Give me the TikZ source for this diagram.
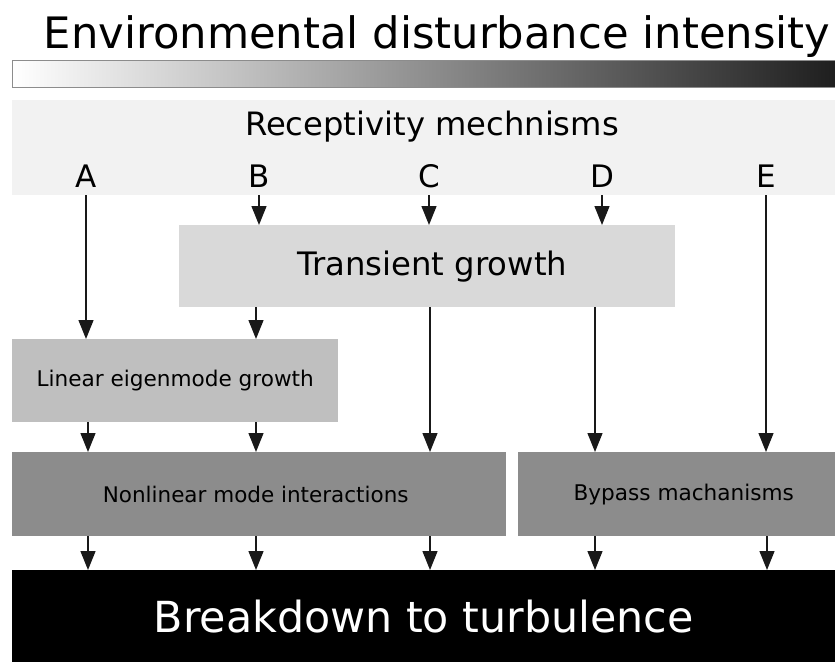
\documentclass[tikz,border=0pt]{standalone}
\usepackage{fontspec}
\setmainfont{DejaVu Sans}
\usetikzlibrary{arrows.meta}

\definecolor{bandgray}{HTML}{F2F2F2}
\definecolor{transgray}{HTML}{D9D9D9}
\definecolor{lingray}{HTML}{BFBFBF}
\definecolor{nongray}{HTML}{8C8C8C}

\begin{document}
\begin{tikzpicture}[
    x=1pt, y=-1pt,
    stage/.style={
        rectangle,
        anchor=north west,
        inner sep=0pt,
        align=center
    },
    flow/.style={
        draw=black!90,
        line width=1.3pt,
        arrows={-Triangle[length=19pt,width=15pt]}
    },
    letter/.style={
        anchor=base,
        font=\fontsize{31}{35}\selectfont
    }
]

\useasboundingbox (0,0) rectangle (835,662);

% title and intensity bar
\node[anchor=base, font=\fontsize{43.3}{48}\selectfont] (title) at (437,48) {Environmental disturbance intensity};
\shade[left color=white, right color=black!88] (12,60) rectangle (835,87);
\draw[black!45, line width=0.8pt] (12,60) rectangle (835,87);

% receptivity band
\node[stage, fill=bandgray, minimum width=823pt, minimum height=95pt] (band) at (12,100) {};
\node[anchor=base, font=\fontsize{32.2}{36}\selectfont] (recept) at (432,135) {Receptivity mechnisms};
\node[letter] (A) at (86,187) {A};
\node[letter] (B) at (259,187) {B};
\node[letter] (C) at (429,187) {C};
\node[letter] (D) at (602,187) {D};
\node[letter] (E) at (766,187) {E};

% stages
\node[stage, fill=transgray, minimum width=496pt, minimum height=82pt,
      font=\fontsize{32.3}{36}\selectfont] (trans) at (179,225) {\hspace*{10pt}Transient growth};
\node[stage, fill=lingray, minimum width=326pt, minimum height=83pt,
      font=\fontsize{21.6}{25}\selectfont] (lin) at (12,339) {Linear eigenmode growth};
\node[stage, fill=nongray, minimum width=494pt, minimum height=84pt,
      font=\fontsize{21.5}{25}\selectfont] (nonlin) at (12,452) {Nonlinear mode interactions\hspace*{7pt}};
\node[stage, fill=nongray, minimum width=317pt, minimum height=84pt,
      font=\fontsize{21.6}{25}\selectfont] (bypass) at (518,452) {\hspace*{14pt}Bypass machanisms};
\node[stage, fill=black, text=white, minimum width=823pt, minimum height=92pt,
      font=\fontsize{42.8}{48}\selectfont] (turb) at (12,570) {Breakdown to turbulence};

% column positions
\coordinate (colA) at (88,0);
\coordinate (colB) at (256,0);
\coordinate (colC) at (430,0);
\coordinate (colD) at (595,0);
\coordinate (colE) at (767,0);

% from receptivity
\draw[flow] (A |- band.south) -- (A |- lin.north);
\draw[flow] (B |- band.south) -- (B |- trans.north);
\draw[flow] (C |- band.south) -- (C |- trans.north);
\draw[flow] (D |- band.south) -- (D |- trans.north);
\draw[flow] (E |- band.south) -- (E |- bypass.north);

% transient growth onwards
\draw[flow] (colB |- trans.south) -- (colB |- lin.north);
\draw[flow] (colC |- trans.south) -- (colC |- nonlin.north);
\draw[flow] (colD |- trans.south) -- (colD |- bypass.north);

% linear to nonlinear
\draw[flow] (colA |- lin.south) -- (colA |- nonlin.north);
\draw[flow] (colB |- lin.south) -- (colB |- nonlin.north);

% into breakdown
\draw[flow] (colA |- nonlin.south) -- (colA |- turb.north);
\draw[flow] (colB |- nonlin.south) -- (colB |- turb.north);
\draw[flow] (colC |- nonlin.south) -- (colC |- turb.north);
\draw[flow] (colD |- bypass.south) -- (colD |- turb.north);
\draw[flow] (colE |- bypass.south) -- (colE |- turb.north);

\end{tikzpicture}
\end{document}
